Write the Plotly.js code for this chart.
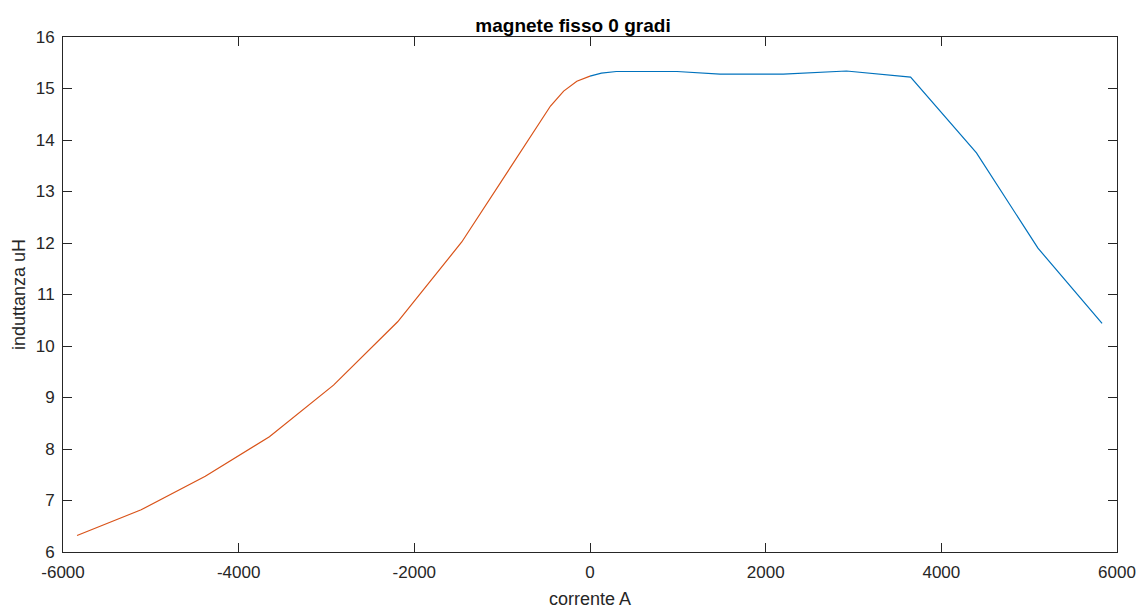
<!DOCTYPE html>
<html>
<head>
<meta charset="utf-8">
<script src="https://cdn.plot.ly/plotly-3.0.1.min.js"></script>
<style>html,body{margin:0;padding:0;background:#fff;}#chart{width:1146px;height:612px;}</style>
</head>
<body>
<div id="chart"></div>
<script>
// Negative-current branch (orange)
const negCurrent = [-5840, -5110, -4380, -3650, -2920, -2190, -1460, -1095, -730, -450, -300, -150, 0];
const negInductance = [6.32, 6.82, 7.47, 8.24, 9.24, 10.47, 12.02, 12.98, 13.95, 14.66, 14.95, 15.14, 15.24];
// Positive-current branch (blue)
const posCurrent = [0, 130, 300, 990, 1480, 2200, 2920, 3650, 4400, 5100, 5830];
const posInductance = [15.24, 15.3, 15.33, 15.33, 15.28, 15.28, 15.34, 15.22, 13.75, 11.9, 10.44];

const xTicks = [-6000, -4000, -2000, 0, 2000, 4000, 6000];
const yTicks = [6, 7, 8, 9, 10, 11, 12, 13, 14, 15, 16];

const axisColor = '#262626';
const fontFam = 'Liberation Sans, Arial, sans-serif';
const traces = [
  {x: posCurrent, y: posInductance, type: 'scatter', mode: 'lines',
   line: {color: '#0072BD', width: 1.2}, showlegend: false},
  {x: negCurrent, y: negInductance, type: 'scatter', mode: 'lines',
   line: {color: '#D95319', width: 1.2}, showlegend: false}
];

const commonAxis = {
  showgrid: false, zeroline: false, showline: true, mirror: 'ticks',
  linecolor: axisColor, linewidth: 1, ticks: 'inside', ticklen: 9,
  tickcolor: axisColor, tickwidth: 1,
  tickfont: {family: fontFam, size: 17, color: axisColor}
};

const layout = {
  width: 1146, height: 612,
  margin: {l: 63, r: 29, t: 37, b: 60},
  paper_bgcolor: '#fff', plot_bgcolor: '#fff',
  title: {text: '<b>magnete fisso 0 gradi</b>', x: 0.5, xanchor: 'center', y: 1, yref: 'paper', yanchor: 'bottom', pad: {b: 5},
          font: {family: fontFam, size: 19, color: '#000'}},
  xaxis: Object.assign({}, commonAxis, {
    range: [-6000, 6000], tickvals: xTicks, ticktext: xTicks.map(String),
    ticklabelstandoff: 5,
    title: {text: 'corrente A', standoff: 10, font: {family: fontFam, size: 18, color: axisColor}}
  }),
  yaxis: Object.assign({}, commonAxis, {
    range: [6, 16], tickvals: yTicks, ticktext: yTicks.map(String),
    ticklabelstandoff: 4,
    title: {text: 'induttanza uH', standoff: 5, font: {family: fontFam, size: 18, color: axisColor}}
  })
};

Plotly.newPlot('chart', traces, layout, {staticPlot: true, displayModeBar: false});
</script>
</body>
</html>
